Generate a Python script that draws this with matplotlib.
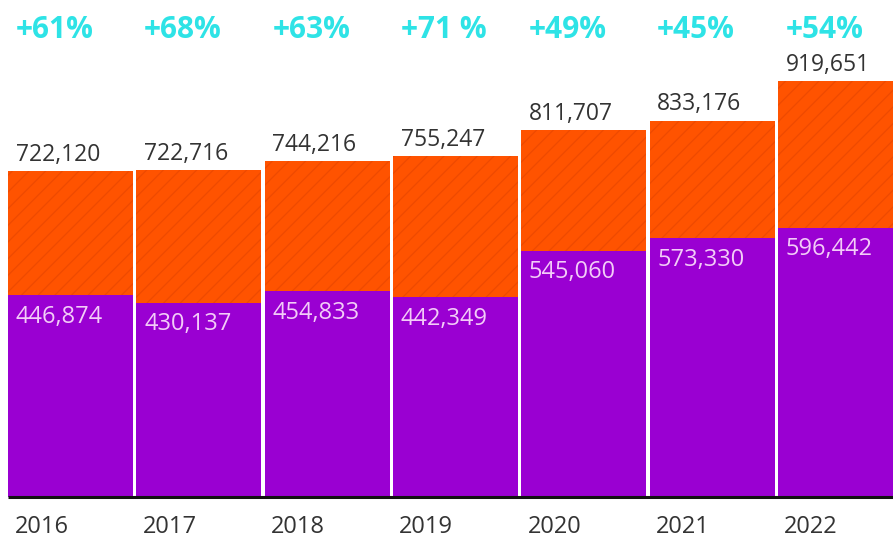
import numpy as np
import matplotlib
matplotlib.use("Agg")
import matplotlib.pyplot as plt
import matplotlib.transforms as mtransforms

plt.rcParams["font.family"] = ["Open Sans", "DejaVu Sans"]
plt.rcParams["hatch.linewidth"] = 0.9

# Chart data.
years = ["2016", "2017", "2018", "2019", "2020", "2021", "2022"]
totals = [722120, 722716, 744216, 755247, 811707, 833176, 919651]
lower = [446874, 430137, 454833, 442349, 545060, 573330, 596442]
growth = ["+61%", "+68%", "+63%", "+71 %", "+49%", "+45%", "+54%"]

upper = [t - l for t, l in zip(totals, lower)]

# Colours.
purple = "#9A00D2"
orange = "#FF5300"
hatch_col = "#EE4A00"
cyan = "#2EE3E6"
dark = "#333333"
light = "#F3CCF8"

fig = plt.figure(figsize=(8.93, 5.41), dpi=100)
ax = fig.add_axes([0, 44 / 541, 1, 497 / 541])

x = np.arange(len(years))
width = 0.975

ax.bar(x, lower, width=width, color=purple, linewidth=0)
ax.bar(x, upper, width=width, bottom=lower, color=orange,
    edgecolor=hatch_col, hatch="//", linewidth=0)

ax.set_xlim(-0.55, 6.41)
ax.set_ylim(0, 1100000)

# Labels: totals above, lower part inside, growth at top.
trans = mtransforms.blended_transform_factory(ax.transData, ax.transAxes)
for i in range(len(years)):
    left = x[i] - width / 2 + 0.06
    ax.annotate(f"{totals[i]:,}", (left, totals[i]), xytext=(0, 3),
        textcoords="offset points", ha="left", va="bottom",
        fontsize=16.5, color=dark)
    ax.annotate(f"{lower[i]:,}", (left, lower[i]), xytext=(0, -7),
        textcoords="offset points", ha="left", va="top",
        fontsize=17, color=light)
    ax.text(left, 1 - 30 / 497, growth[i], transform=trans, ha="left",
        va="center", fontsize=21.5, fontweight="bold", color=cyan)
    ax.text(x[i] - width / 2 + 0.05, -30 / 497, years[i], transform=trans,
        ha="left", va="center", fontsize=17, color=dark, clip_on=False)

# Baseline.
ax.plot([-0.49, 6.41], [0, 0], color="#111111", linewidth=2.2,
    solid_capstyle="butt", clip_on=False)

ax.axis("off")

fig.savefig("out.png", dpi=100)
